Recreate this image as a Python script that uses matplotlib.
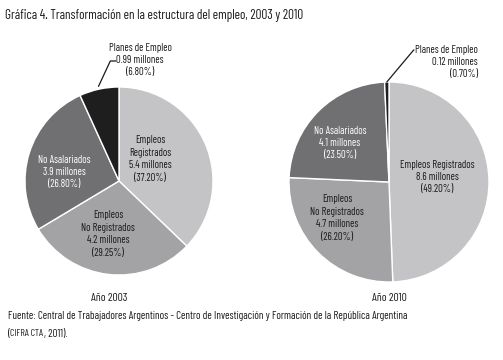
import matplotlib
matplotlib.use("Agg")
import matplotlib.pyplot as plt
import numpy as np

plt.rcParams['font.family'] = ['Barlow Condensed', 'DejaVu Sans']

# data
categories = ["Empleos Registrados", "Empleos No Registrados", "No Asalariados", "Planes de Empleo"]
pct_2003 = [37.20, 29.25, 26.80, 6.80]
mill_2003 = ["5.4", "4.2", "3.9", "0.99"]
pct_2010 = [49.20, 26.20, 23.50, 0.70]
mill_2010 = ["8.6", "4.7", "4.1", "0.12"]
colors = ["#c4c4c6", "#a3a3a5", "#707072", "#1e1e1e"]

W, H = 503, 360
fig = plt.figure(figsize=(W / 100, H / 100), dpi=100)
fig.patch.set_facecolor("white")


def fx(x):
    return x / W


def fy(y):
    return 1 - y / H


def make_axes(cx, cy, r):
    ax = fig.add_axes([fx(cx - r), fy(cy + r), 2 * r / W, 2 * r / H])
    return ax


def draw_pie(ax, vals):
    wedges, _ = ax.pie(vals, colors=colors, startangle=90, counterclock=False,
                       radius=1, wedgeprops=dict(edgecolor="white", linewidth=1.0))
    ax.set_xlim(-1, 1)
    ax.set_ylim(-1, 1)
    ax.set_aspect("equal")
    ax.axis("off")
    return wedges


def lbl(x, y, s, color="#1a1a1a", ha="center", size=7.6):
    fig.text(fx(x), fy(y), s, ha=ha, va="center", color=color, fontsize=size,
             linespacing=1.3)


# title
fig.text(fx(5), fy(16), "Gráfica 4. Transformación en la estructura del empleo, 2003 y 2010",
         ha="left", va="center", fontsize=9.5, color="#1a1a1a")

# 2003 pie
ax1 = make_axes(119, 181, 94)
w1 = draw_pie(ax1, pct_2003)

lbl(150, 159, "Empleos\nRegistrados\n%s millones\n(%.2f%%)" % (mill_2003[0], pct_2003[0]))
lbl(108, 234, "Empleos\nNo Registrados\n%s millones\n(%.2f%%)" % (mill_2003[1], pct_2003[1]))
lbl(64, 172, "No Asalariados\n%s millones\n(%.2f%%)" % (mill_2003[2], pct_2003[2]), color="white")
lbl(140, 60, "Planes de Empleo\n%s millones\n(%.2f%%)" % (mill_2003[3], pct_2003[3]))
lbl(109, 298, "Año 2003", size=8.3)

# leader to Planes 2003
th = np.deg2rad((w1[3].theta1 + w1[3].theta2) / 2)
ax1.annotate("", xy=(1.03 * np.cos(th), 1.03 * np.sin(th)), xycoords="data",
             xytext=(fx(116), fy(61)), textcoords="figure fraction",
             arrowprops=dict(arrowstyle="-", color="#1a1a1a", lw=0.9,
                             connectionstyle="angle,angleA=0,angleB=65,rad=0",
                             shrinkA=0, shrinkB=0),
             annotation_clip=False)

# 2010 pie
ax2 = make_axes(389, 182, 100)
w2 = draw_pie(ax2, pct_2010)

lbl(437, 177, "Empleos Registrados\n%s millones\n(%.2f%%)" % (mill_2010[0], pct_2010[0]))
lbl(337, 218, "Empleos\nNo Registrados\n%s millones\n(%.2f%%)" % (mill_2010[1], pct_2010[1]))
lbl(340, 143, "No Asalariados\n%s millones\n(%.2f%%)" % (mill_2010[2], pct_2010[2]), color="white")
lbl(478, 62, "Planes de Empleo\n%s millones\n(%.2f%%)" % (mill_2010[3], pct_2010[3]), ha="right")
lbl(389, 298, "Año 2010", size=8.3)

th = np.deg2rad((w2[3].theta1 + w2[3].theta2) / 2)
ax2.annotate("", xy=(1.0 * np.cos(th), 1.0 * np.sin(th)), xycoords="data",
             xytext=(fx(414), fy(50)), textcoords="figure fraction",
             arrowprops=dict(arrowstyle="-", color="#1a1a1a", lw=0.9,
                             connectionstyle="angle,angleA=0,angleB=50,rad=0",
                             shrinkA=0, shrinkB=0),
             annotation_clip=False)

# source
fig.text(fx(8), fy(316), "Fuente: Central de Trabajadores Argentinos - Centro de Investigación "
         "y Formación de la República Argentina", ha="left", va="center", fontsize=7.9,
         color="#1a1a1a")
t1 = fig.text(fx(8), fy(334), "(", ha="left", va="center", fontsize=7.9, color="#1a1a1a")
t2 = fig.text(0, 0, "CIFRA CTA", ha="left", va="baseline", fontsize=7.0, color="#1a1a1a")
t3 = fig.text(0, 0, ", 2011).", ha="left", va="baseline", fontsize=7.9, color="#1a1a1a")

fig.canvas.draw()
r = fig.canvas.get_renderer()
inv = fig.transFigure.inverted()
b1 = t1.get_window_extent(r)
base = inv.transform((0, b1.y0 + 2.5))[1]
t2.set_position((inv.transform((b1.x1, 0))[0], base))
fig.canvas.draw()
b2 = t2.get_window_extent(r)
t3.set_position((inv.transform((b2.x1, 0))[0], base))

fig.savefig("out.png", dpi=100, facecolor="white")
